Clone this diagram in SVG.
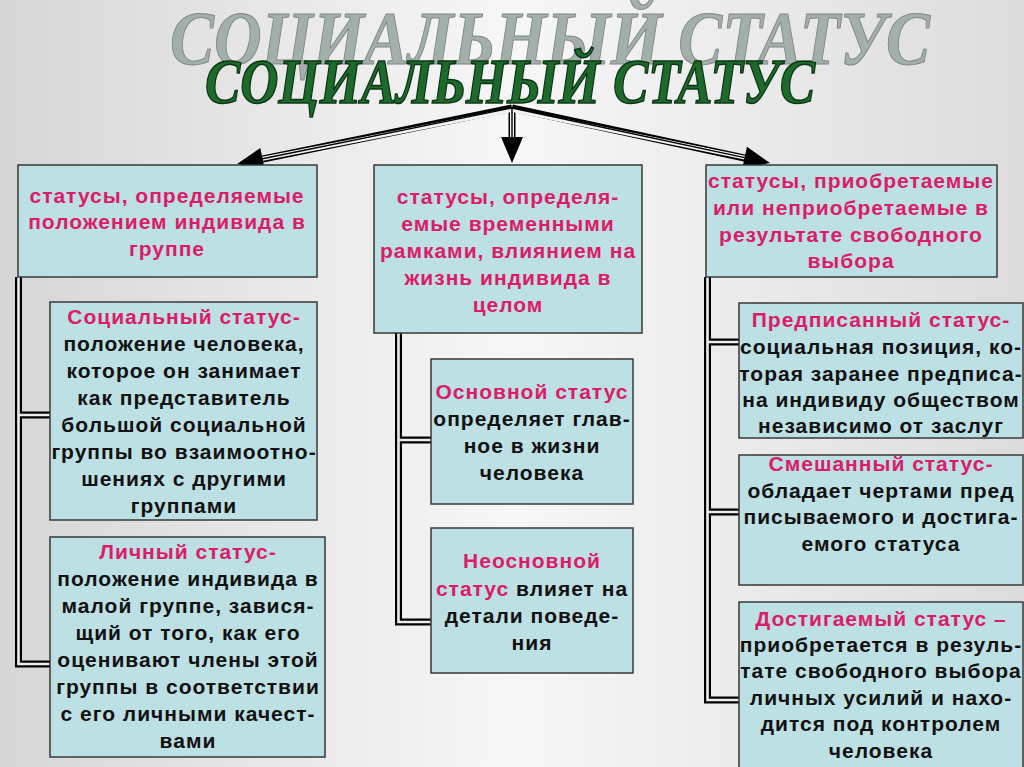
<svg xmlns="http://www.w3.org/2000/svg" width="1024" height="767" viewBox="0 0 1024 767">
<defs>
<linearGradient id="bg" x1="0" y1="0" x2="1" y2="0">
<stop offset="0" stop-color="#d6d6d6"/>
<stop offset="0.5" stop-color="#f7f7f7"/>
<stop offset="1" stop-color="#dcdcdc"/>
</linearGradient>
<style>
.box{fill:#bde0e4;stroke:#383838;stroke-width:1.5}
.t{font-family:"Liberation Sans",Arial,sans-serif;font-weight:bold;font-size:21px;letter-spacing:1px;text-anchor:middle;fill:#111}
.p{fill:#dc1c68}
.ttl{font-family:"Liberation Serif","Times New Roman",serif;font-weight:bold;font-style:italic;text-anchor:middle}
.k1{fill:none;stroke:#000;stroke-width:7}
.w1{fill:none;stroke:#f2f2f2;stroke-width:4}
.k2{fill:none;stroke:#000;stroke-width:1.4}
.dk{fill:none;stroke:#000;stroke-width:7;stroke-linejoin:miter}
.dw{fill:none;stroke:#eeeeee;stroke-width:2.6;stroke-linejoin:miter}
</style>
</defs>
<rect x="0" y="0" width="1024" height="767" fill="url(#bg)"/>

<g id="title">
<text class="ttl" x="550" y="64" font-size="76" textLength="760" lengthAdjust="spacingAndGlyphs" fill="#a4aeab" stroke="#7f8986" stroke-width="1">СОЦИАЛЬНЫЙ  СТАТУС</text>
<text class="ttl" x="510" y="103" font-size="64" textLength="610" lengthAdjust="spacingAndGlyphs" fill="#1e6a2d" stroke="#0a3512" stroke-width="1.5">СОЦИАЛЬНЫЙ  СТАТУС</text>
</g>

<g id="connectors">
<path class="k1" d="M512,108 L258,160 M512,108 V142 M512,108 L749,159"/>
<path class="w1" d="M512,110 L262.5,158.8 M512,112 V137 M512,110 L744.6,157.6"/>
<path class="k2" d="M512,108 L262.5,158.8 M512,108 V137 M512,108 L744.6,157.6"/>
<polygon points="237,164 264.7,169.6 260.3,148" fill="#000"/>
<polygon points="512,163 501,137 523,137" fill="#000"/>
<polygon points="770,163 742.3,168.4 746.9,146.8" fill="#000"/>
<path class="dk" d="M18.5,277 V664 H50 M18.5,415 H50"/>
<path class="dw" d="M18.5,277 V664 H50 M18.5,415 H50"/>
<path class="dk" d="M398.5,333 V622 H431 M398.5,440 H431"/>
<path class="dw" d="M398.5,333 V622 H431 M398.5,440 H431"/>
<path class="dk" d="M707.5,277 V700 H739 M707.5,342 H739 M707.5,512 H739"/>
<path class="dw" d="M707.5,277 V700 H739 M707.5,342 H739 M707.5,512 H739"/>
</g>

<g id="left-top">
<rect class="box" x="18" y="165" width="299" height="112"/>
<text class="t p" x="167" y="203">статусы, определяемые</text>
<text class="t p" x="167" y="229">положением индивида в</text>
<text class="t p" x="167" y="256">группе</text>
</g>

<g id="left-social">
<rect class="box" x="50" y="302" width="267" height="218"/>
<text class="t p" x="184" y="324">Социальный статус-</text>
<text class="t" x="184" y="351">положение человека,</text>
<text class="t" x="184" y="378">которое он занимает</text>
<text class="t" x="184" y="405">как представитель</text>
<text class="t" x="184" y="432">большой социальной</text>
<text class="t" x="184" y="459">группы во взаимоотно-</text>
<text class="t" x="184" y="486">шениях с другими</text>
<text class="t" x="184" y="513">группами</text>
</g>

<g id="left-personal">
<rect class="box" x="50" y="537" width="275" height="220"/>
<text class="t p" x="188" y="559">Личный статус-</text>
<text class="t" x="188" y="586">положение индивида в</text>
<text class="t" x="188" y="613">малой группе, завися-</text>
<text class="t" x="188" y="640">щий от того, как его</text>
<text class="t" x="188" y="667">оценивают члены этой</text>
<text class="t" x="188" y="694">группы в соответствии</text>
<text class="t" x="188" y="721">с его личными качест-</text>
<text class="t" x="188" y="748">вами</text>
</g>

<g id="mid-top">
<rect class="box" x="374" y="165" width="268" height="168"/>
<text class="t p" x="508" y="204">статусы, определя-</text>
<text class="t p" x="508" y="231">емые временными</text>
<text class="t p" x="508" y="258">рамками, влиянием на</text>
<text class="t p" x="508" y="285">жизнь индивида в</text>
<text class="t p" x="508" y="312">целом</text>
</g>

<g id="mid-main">
<rect class="box" x="431" y="359" width="202" height="145"/>
<text class="t p" x="532" y="399">Основной статус</text>
<text class="t" x="532" y="426">определяет глав-</text>
<text class="t" x="532" y="453">ное в жизни</text>
<text class="t" x="532" y="480">человека</text>
</g>

<g id="mid-secondary">
<rect class="box" x="431" y="528" width="202" height="145"/>
<text class="t p" x="532" y="568">Неосновной</text>
<text class="t" x="532" y="596"><tspan class="p">статус</tspan> влияет на</text>
<text class="t" x="532" y="623">детали поведе-</text>
<text class="t" x="532" y="650">ния</text>
</g>

<g id="right-top">
<rect class="box" x="706" y="165" width="291" height="112"/>
<text class="t p" x="851" y="188">статусы, приобретаемые</text>
<text class="t p" x="851" y="215">или неприобретаемые в</text>
<text class="t p" x="851" y="242">результате свободного</text>
<text class="t p" x="851" y="268">выбора</text>
</g>

<g id="right-ascribed">
<rect class="box" x="739" y="303" width="284" height="135"/>
<text class="t p" x="881" y="327">Предписанный статус-</text>
<text class="t" x="881" y="354">социальная позиция, ко-</text>
<text class="t" x="881" y="381">торая заранее предписа-</text>
<text class="t" x="881" y="407">на индивиду обществом</text>
<text class="t" x="881" y="433">независимо от заслуг</text>
</g>

<g id="right-mixed">
<rect class="box" x="739" y="455" width="284" height="130"/>
<text class="t p" x="881" y="471">Смешанный статус-</text>
<text class="t" x="881" y="498">обладает чертами пред</text>
<text class="t" x="881" y="524">писываемого и достига-</text>
<text class="t" x="881" y="551">емого статуса</text>
</g>

<g id="right-achieved">
<rect class="box" x="739" y="602" width="284" height="170"/>
<text class="t p" x="881" y="626">Достигаемый статус –</text>
<text class="t" x="881" y="652">приобретается в резуль-</text>
<text class="t" x="881" y="678">тате свободного выбора</text>
<text class="t" x="881" y="705">личных усилий и нахо-</text>
<text class="t" x="881" y="731">дится под контролем</text>
<text class="t" x="881" y="758">человека</text>
</g>
</svg>
